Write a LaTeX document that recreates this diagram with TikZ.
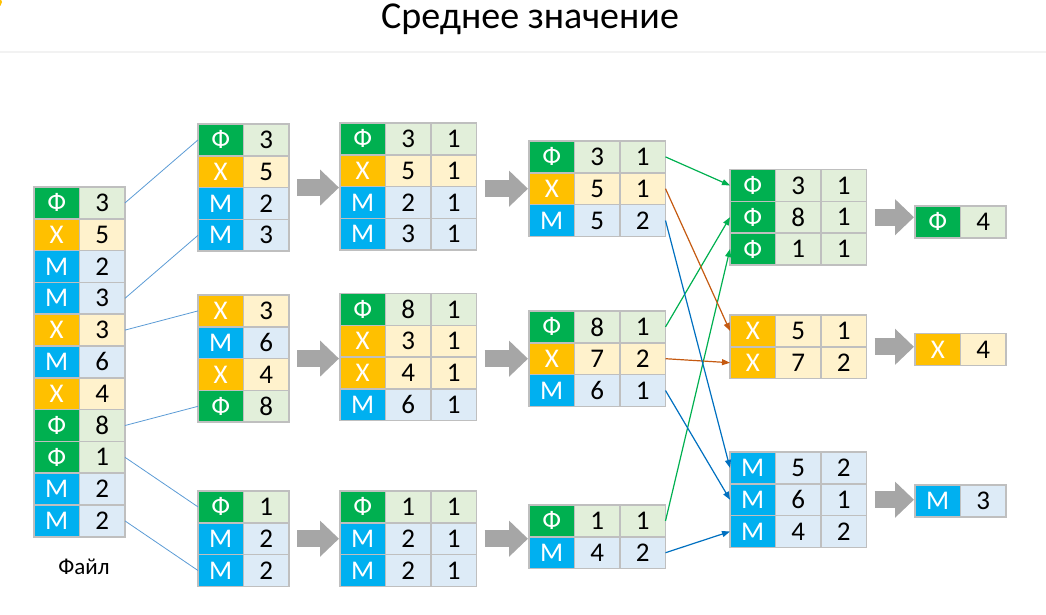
\documentclass[tikz,border=0pt]{standalone}
\usepackage{fontspec}
\setmainfont{Carlito}
\usepackage{tikz}
\usetikzlibrary{positioning, fit, arrows.meta}

\definecolor{fgreen}{HTML}{00B050}
\definecolor{xgold}{HTML}{FFC000}
\definecolor{mcyan}{HTML}{00B0F0}
\definecolor{fpale}{HTML}{E2EFDA}
\definecolor{xpale}{HTML}{FFF2CC}
\definecolor{mpale}{HTML}{DDEBF7}
\definecolor{cellgrey}{HTML}{BFBFBF}
\definecolor{arrowgrey}{HTML}{A6A6A6}
\definecolor{linkblue}{HTML}{5B9BD5}
\definecolor{sendgreen}{HTML}{00B050}
\definecolor{sendorange}{HTML}{C55A11}
\definecolor{sendblue}{HTML}{0070C0}

\begin{document}
\begin{tikzpicture}[
x=1pt, y=-1pt,
cell/.style={draw=cellgrey, line width=1.5pt, minimum width=45.5pt, minimum height=31.8pt, inner sep=0pt, outer sep=0pt, anchor=north west, font=\fontsize{27}{27}\selectfont},
fkey/.style={cell, fill=fgreen, text=white},
xkey/.style={cell, fill=xgold, text=white},
mkey/.style={cell, fill=mcyan, text=white},
fval/.style={cell, fill=fpale},
xval/.style={cell, fill=xpale},
mval/.style={cell, fill=mpale},
table/.style={inner sep=0pt, outer sep=0pt},
bigarrow/.style={arrowgrey, line width=17pt, -{Triangle[width=35pt, length=19pt]}, shorten <=8pt, shorten >=1pt},
split/.style={linkblue, line width=0.8pt},
send/.style={line width=1.2pt, -{Triangle[width=6pt, length=8pt]}}
]
\useasboundingbox (0, 0) rectangle (1046, 614);

\fill[xgold] (-3, 2) circle (5);
\draw[gray!10, line width=2pt] (0, 52) -- (1046, 52);
\node[anchor=base, font=\fontsize{38}{38}\selectfont] at (530, 28) (title) {Среднее значение};

% file
\node[fkey] at (34, 187) (k1) {Ф}; \node[fval, right=0pt of k1] (v1) {3};
\node[xkey, below=0pt of k1] (k2) {Х}; \node[xval, right=0pt of k2] (v2) {5};
\node[mkey, below=0pt of k2] (k3) {М}; \node[mval, right=0pt of k3] (v3) {2};
\node[mkey, below=0pt of k3] (k4) {М}; \node[mval, right=0pt of k4] (v4) {3};
\node[xkey, below=0pt of k4] (k5) {Х}; \node[xval, right=0pt of k5] (v5) {3};
\node[mkey, below=0pt of k5] (k6) {М}; \node[mval, right=0pt of k6] (v6) {6};
\node[xkey, below=0pt of k6] (k7) {Х}; \node[xval, right=0pt of k7] (v7) {4};
\node[fkey, below=0pt of k7] (k8) {Ф}; \node[fval, right=0pt of k8] (v8) {8};
\node[fkey, below=0pt of k8] (k9) {Ф}; \node[fval, right=0pt of k9] (v9) {1};
\node[mkey, below=0pt of k9] (k10) {М}; \node[mval, right=0pt of k10] (v10) {2};
\node[mkey, below=0pt of k10] (k11) {М}; \node[mval, right=0pt of k11] (v11) {2};
\node[font=\fontsize{23}{23}\selectfont] at (84, 567) (file) {Файл};

% split
\node[fkey] at (198, 124) (a1) {Ф}; \node[fval, right=0pt of a1] (a1n) {3};
\node[xkey, below=0pt of a1] (a2) {Х}; \node[xval, right=0pt of a2] (a2n) {5};
\node[mkey, below=0pt of a2] (a3) {М}; \node[mval, right=0pt of a3] (a3n) {2};
\node[mkey, below=0pt of a3] (a4) {М}; \node[mval, right=0pt of a4] (a4n) {3};

\node[xkey] at (198, 295) (b1) {Х}; \node[xval, right=0pt of b1] (b1n) {3};
\node[mkey, below=0pt of b1] (b2) {М}; \node[mval, right=0pt of b2] (b2n) {6};
\node[xkey, below=0pt of b2] (b3) {Х}; \node[xval, right=0pt of b3] (b3n) {4};
\node[fkey, below=0pt of b3] (b4) {Ф}; \node[fval, right=0pt of b4] (b4n) {8};

\node[fkey] at (198, 491) (c1) {Ф}; \node[fval, right=0pt of c1] (c1n) {1};
\node[mkey, below=0pt of c1] (c2) {М}; \node[mval, right=0pt of c2] (c2n) {2};
\node[mkey, below=0pt of c2] (c3) {М}; \node[mval, right=0pt of c3] (c3n) {2};

% map
\node[fkey] at (340, 123) (d1) {Ф}; \node[fval, right=0pt of d1] (d1n) {3}; \node[fval, right=0pt of d1n] (d1w) {1};
\node[xkey, below=0pt of d1] (d2) {Х}; \node[xval, right=0pt of d2] (d2n) {5}; \node[xval, right=0pt of d2n] (d2w) {1};
\node[mkey, below=0pt of d2] (d3) {М}; \node[mval, right=0pt of d3] (d3n) {2}; \node[mval, right=0pt of d3n] (d3w) {1};
\node[mkey, below=0pt of d3] (d4) {М}; \node[mval, right=0pt of d4] (d4n) {3}; \node[mval, right=0pt of d4n] (d4w) {1};

\node[fkey] at (340, 293.5) (e1) {Ф}; \node[fval, right=0pt of e1] (e1n) {8}; \node[fval, right=0pt of e1n] (e1w) {1};
\node[xkey, below=0pt of e1] (e2) {Х}; \node[xval, right=0pt of e2] (e2n) {3}; \node[xval, right=0pt of e2n] (e2w) {1};
\node[xkey, below=0pt of e2] (e3) {Х}; \node[xval, right=0pt of e3] (e3n) {4}; \node[xval, right=0pt of e3n] (e3w) {1};
\node[mkey, below=0pt of e3] (e4) {М}; \node[mval, right=0pt of e4] (e4n) {6}; \node[mval, right=0pt of e4n] (e4w) {1};

\node[fkey] at (340, 491) (f1) {Ф}; \node[fval, right=0pt of f1] (f1n) {1}; \node[fval, right=0pt of f1n] (f1w) {1};
\node[mkey, below=0pt of f1] (f2) {М}; \node[mval, right=0pt of f2] (f2n) {2}; \node[mval, right=0pt of f2n] (f2w) {1};
\node[mkey, below=0pt of f2] (f3) {М}; \node[mval, right=0pt of f3] (f3n) {2}; \node[mval, right=0pt of f3n] (f3w) {1};

% combine
\node[fkey] at (529, 141) (g1) {Ф}; \node[fval, right=0pt of g1] (g1n) {3}; \node[fval, right=0pt of g1n] (g1w) {1};
\node[xkey, below=0pt of g1] (g2) {Х}; \node[xval, right=0pt of g2] (g2n) {5}; \node[xval, right=0pt of g2n] (g2w) {1};
\node[mkey, below=0pt of g2] (g3) {М}; \node[mval, right=0pt of g3] (g3n) {5}; \node[mval, right=0pt of g3n] (g3w) {2};

\node[fkey] at (529, 311) (h1) {Ф}; \node[fval, right=0pt of h1] (h1n) {8}; \node[fval, right=0pt of h1n] (h1w) {1};
\node[xkey, below=0pt of h1] (h2) {Х}; \node[xval, right=0pt of h2] (h2n) {7}; \node[xval, right=0pt of h2n] (h2w) {2};
\node[mkey, below=0pt of h2] (h3) {М}; \node[mval, right=0pt of h3] (h3n) {6}; \node[mval, right=0pt of h3n] (h3w) {1};

\node[fkey] at (529, 505) (i1) {Ф}; \node[fval, right=0pt of i1] (i1n) {1}; \node[fval, right=0pt of i1n] (i1w) {1};
\node[mkey, below=0pt of i1] (i2) {М}; \node[mval, right=0pt of i2] (i2n) {4}; \node[mval, right=0pt of i2n] (i2w) {2};

% shuffle
\node[fkey] at (730, 169.5) (p1) {Ф}; \node[fval, right=0pt of p1] (p1n) {3}; \node[fval, right=0pt of p1n] (p1w) {1};
\node[fkey, below=0pt of p1] (p2) {Ф}; \node[fval, right=0pt of p2] (p2n) {8}; \node[fval, right=0pt of p2n] (p2w) {1};
\node[fkey, below=0pt of p2] (p3) {Ф}; \node[fval, right=0pt of p3] (p3n) {1}; \node[fval, right=0pt of p3n] (p3w) {1};

\node[xkey] at (730, 315) (q1) {Х}; \node[xval, right=0pt of q1] (q1n) {5}; \node[xval, right=0pt of q1n] (q1w) {1};
\node[xkey, below=0pt of q1] (q2) {Х}; \node[xval, right=0pt of q2] (q2n) {7}; \node[xval, right=0pt of q2n] (q2w) {2};

\node[mkey] at (730, 452) (r1) {М}; \node[mval, right=0pt of r1] (r1n) {5}; \node[mval, right=0pt of r1n] (r1w) {2};
\node[mkey, below=0pt of r1] (r2) {М}; \node[mval, right=0pt of r2] (r2n) {6}; \node[mval, right=0pt of r2n] (r2w) {1};
\node[mkey, below=0pt of r2] (r3) {М}; \node[mval, right=0pt of r3] (r3n) {4}; \node[mval, right=0pt of r3n] (r3w) {2};

% reduce
\node[fkey] at (915, 206) (s1) {Ф}; \node[fval, right=0pt of s1] (s1n) {4};
\node[xkey] at (915, 333.5) (t1) {Х}; \node[xval, right=0pt of t1] (t1n) {4};
\node[mkey] at (915, 485) (u1) {М}; \node[mval, right=0pt of u1] (u1n) {3};

% tables
\node[table, fit=(a1)(a4n)] (ta) {};
\node[table, fit=(b1)(b4n)] (tb) {};
\node[table, fit=(c1)(c3n)] (tc) {};
\node[table, fit=(d1)(d4w)] (td) {};
\node[table, fit=(e1)(e4w)] (te) {};
\node[table, fit=(f1)(f3w)] (tf) {};
\node[table, fit=(g1)(g3w)] (tg) {};
\node[table, fit=(h1)(h3w)] (th) {};
\node[table, fit=(i1)(i2w)] (ti) {};
\node[table, fit=(p1)(p3w)] (tp) {};
\node[table, fit=(q1)(q2w)] (tq) {};
\node[table, fit=(r1)(r3w)] (tr) {};
\node[table, fit=(s1)(s1n)] (ts) {};
\node[table, fit=(t1)(t1n)] (tt) {};
\node[table, fit=(u1)(u1n)] (tu) {};

\draw[split] (v1.east) -- (a1.west);
\draw[split] (v4.east) -- (a4.west);
\draw[split] (v5.east) -- (b1.west);
\draw[split] (v8.east) -- (b4.west);
\draw[split] (v9.east) -- (c1.west);
\draw[split] (v11.east) -- (c3.west);

\draw[bigarrow] (ta.east) -- (ta.east -| td.west);
\draw[bigarrow] (tb.east) -- (tb.east -| te.west);
\draw[bigarrow] (tc.east) -- (tc.east -| tf.west);
\draw[bigarrow] (tg.west -| td.east) -- (tg.west);
\draw[bigarrow] (th.west -| te.east) -- (th.west);
\draw[bigarrow] (tf.east) -- (tf.east -| ti.west);
\draw[bigarrow] (tp.east) -- (tp.east -| ts.west);
\draw[bigarrow] (tq.east) -- (tq.east -| tt.west);
\draw[bigarrow] (tr.east) -- (tr.east -| tu.west);

\draw[send, sendgreen] (g1w.east) -- (p1.west);
\draw[send, sendgreen] (h1w.east) -- (p2.west);
\draw[send, sendgreen] (i1w.east) -- (p3.west);
\draw[send, sendorange] (g2w.east) -- (q1.west);
\draw[send, sendorange] (h2w.east) -- (q2.west);
\draw[send, sendblue] (g3w.east) -- (r1.west);
\draw[send, sendblue] (h3w.east) -- (r2.west);
\draw[send, sendblue] (i2w.east) -- (r3.west);
\end{tikzpicture}
\end{document}
